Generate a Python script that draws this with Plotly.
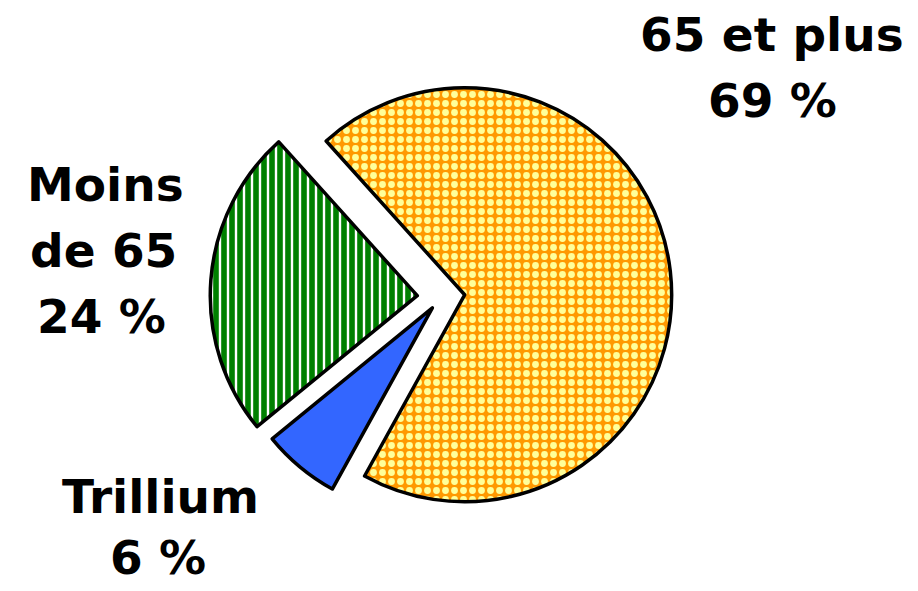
import plotly.graph_objects as go

# Répartition en pourcentage
labels = ["65 et plus", "Trillium", "Moins de 65"]
values = [69, 6, 24]

# Texte des étiquettes, une ligne par élément
label_lines = {
    "65 et plus": ["65 et plus"],
    "Trillium": ["Trillium"],
    "Moins de 65": ["Moins", "de 65"],
}

W, H = 918, 591
cx, cy, R = 441, 297.5, 207
pulls = [0.115, 0.065, 0.115]
half = R * (1 + max(pulls))

fig = go.Figure(
    go.Pie(
        labels=labels,
        values=values,
        sort=False,
        direction="clockwise",
        rotation=-42,
        pull=pulls,
        textinfo="none",
        hoverinfo="skip",
        showlegend=False,
        domain=dict(
            x=[(cx - half) / W, (cx + half) / W],
            y=[1 - (cy + half) / H, 1 - (cy - half) / H],
        ),
        marker=dict(
            colors=["#FF9900", "#3366FF", "#008000"],
            line=dict(color="black", width=3.5),
            pattern=dict(
                shape=[".", "", "|"],
                fgcolor=["#FFFF99", "#3366FF", "white"],
                bgcolor=["#FF9900", "#3366FF", "#008000"],
                size=[9, 8, 8],
                solidity=[0.45, 0.3, 0.3],
                fillmode="replace",
            ),
        ),
    )
)

# Position (px) du centre de chaque ligne d'étiquette
label_pos = {
    "65 et plus": [(772, 35), (772, 100.5)],
    "Trillium": [(160, 496), (158, 557.5)],
    "Moins de 65": [(105, 184.5), (103, 250.5), (101, 316.5)],
}

annotations = []
for lab, val in zip(labels, values):
    lines = label_lines[lab] + [f"{val} %"]
    for text, (px, py) in zip(lines, label_pos[lab]):
        annotations.append(
            dict(
                text=f"<b>{text}</b>",
                x=px / W,
                y=1 - py / H,
                xref="paper",
                yref="paper",
                xanchor="center",
                yanchor="middle",
                showarrow=False,
                font=dict(family="DejaVu Sans", size=47, color="black"),
            )
        )

fig.update_layout(
    width=W,
    height=H,
    margin=dict(l=0, r=0, t=0, b=0),
    paper_bgcolor="white",
    plot_bgcolor="white",
    annotations=annotations,
)

fig.write_html("out.html")
